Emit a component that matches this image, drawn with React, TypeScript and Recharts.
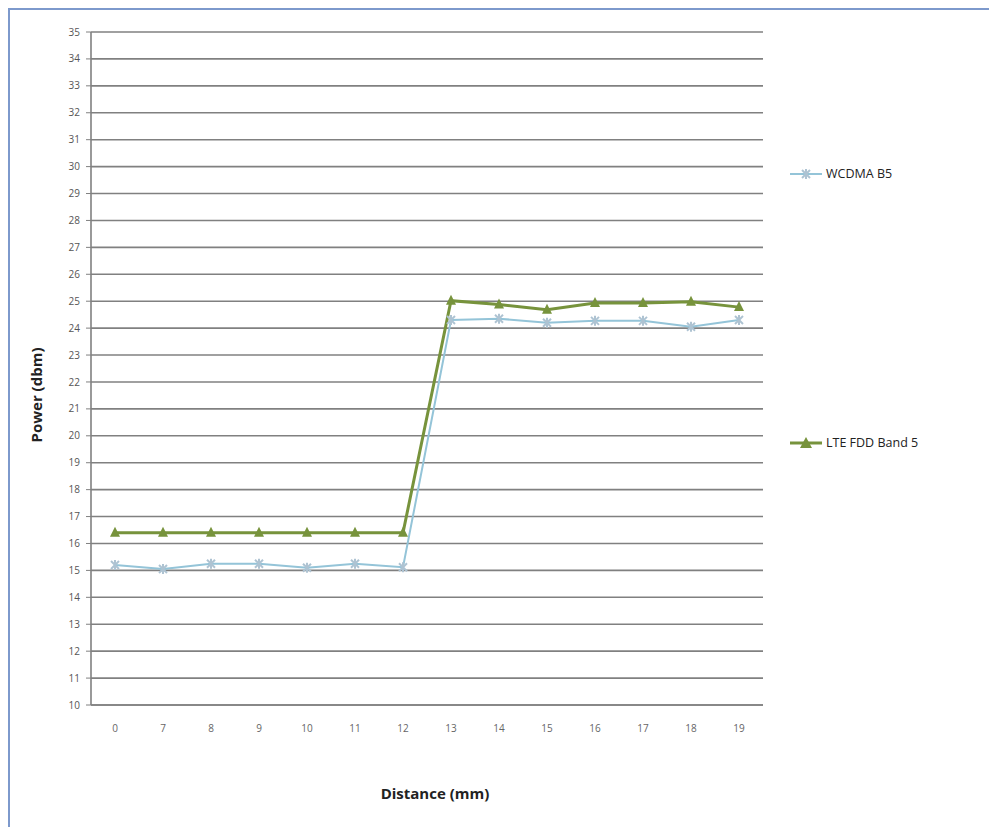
import React from 'react';
import { LineChart, Line, XAxis, YAxis, CartesianGrid, Legend, Label } from 'recharts';

const distances = ['0', '7', '8', '9', '10', '11', '12', '13', '14', '15', '16', '17', '18', '19'];
const wcdmaB5 = [15.2, 15.05, 15.25, 15.25, 15.1, 15.25, 15.12, 24.3, 24.35, 24.2, 24.27, 24.27, 24.05, 24.3];
const lteBand5 = [16.4, 16.4, 16.4, 16.4, 16.4, 16.4, 16.4, 25.02, 24.88, 24.68, 24.93, 24.93, 24.98, 24.78];
const yTicks = Array.from({ length: 26 }, (_, i) => 10 + i);

const seriesNames = { w: 'WCDMA B5', l: 'LTE FDD Band 5' };

const data = distances.map((d, i) => ({ d, w: wcdmaB5[i], l: lteBand5[i] }));

const W_COLOR = '#94c4d8';
const W_MARK = '#aec3d2';
const L_COLOR = '#77933c';

const StarDot = (props: any) => {
  const { cx, cy } = props;
  if (cx == null || cy == null) return null;
  const r = 4;
  return (
    <g>
      <line x1={cx - r} y1={cy - r} x2={cx + r} y2={cy + r} stroke={W_MARK} strokeWidth={2} />
      <line x1={cx - r} y1={cy + r} x2={cx + r} y2={cy - r} stroke={W_MARK} strokeWidth={2} />
      <line x1={cx} y1={cy - r - 1} x2={cx} y2={cy + r + 1} stroke={W_MARK} strokeWidth={2} />
    </g>
  );
};

const TriDot = (props: any) => {
  const { cx, cy } = props;
  if (cx == null || cy == null) return null;
  const s = 5;
  return <path d={`M${cx},${cy - s - 1} L${cx + s},${cy + s - 1} L${cx - s},${cy + s - 1} Z`} fill={L_COLOR} />;
};

const LegendContent = (props: any) => {
  const { payload } = props;
  return (
    <div style={{ position: 'relative', width: 200, height: 500 }}>
      {(payload || []).map((p: any) => {
        const isL = p.dataKey === 'l';
        const top = isL ? 424 : 155;
        return (
          <div key={p.value} style={{ position: 'absolute', left: 0, top, display: 'flex', alignItems: 'center' }}>
            <svg width={34} height={14}>
              <line x1={0} y1={7} x2={32} y2={7} stroke={p.color} strokeWidth={isL ? 3 : 2} />
              {isL ? (
                <path d="M16,1 L22,12 L10,12 Z" fill={L_COLOR} />
              ) : (
                <g>
                  <line x1={12} y1={3} x2={20} y2={11} stroke={W_MARK} strokeWidth={2} />
                  <line x1={12} y1={11} x2={20} y2={3} stroke={W_MARK} strokeWidth={2} />
                  <line x1={16} y1={2} x2={16} y2={12} stroke={W_MARK} strokeWidth={2} />
                </g>
              )}
            </svg>
            <span style={{ fontFamily: 'Open Sans, sans-serif', fontSize: 12.5, color: '#222', marginLeft: 2, whiteSpace: 'nowrap' }}>{p.value}</span>
          </div>
        );
      })}
    </div>
  );
};

export default function App() {
  return (
    <div style={{ width: 987, height: 817, borderTop: '2px solid #7d99cc', borderLeft: '2px solid #7d99cc', background: '#fff' }}>
      <LineChart width={987} height={817} data={data} margin={{ top: 22, right: 234, bottom: 92, left: 0 }}>
        <CartesianGrid vertical={false} stroke="#808080" strokeWidth={1.6} />
        <XAxis
          dataKey="d"
          padding={{ left: 24, right: 24 }}
          tickLine={false}
          axisLine={{ stroke: '#808080', strokeWidth: 1.6 }}
          tickMargin={14}
          tick={{ fontSize: 10, fill: '#666', fontFamily: 'Open Sans, sans-serif' }}
          interval={0}
        >
          <Label
            content={(p: any) => (
              <text x={425} y={789} textAnchor="middle" fontFamily="Open Sans, sans-serif" fontWeight="bold" fontSize={15} fill="#222">
                Distance (mm)
              </text>
            )}
          />
        </XAxis>
        <YAxis
          width={81}
          domain={[10, 35]}
          ticks={yTicks}
          interval={0}
          tickSize={5}
          tickMargin={6}
          tickLine={{ stroke: '#808080' }}
          axisLine={{ stroke: '#808080', strokeWidth: 1.6 }}
          tick={{ fontSize: 10, fill: '#555', fontFamily: 'Open Sans, sans-serif' }}
        >
          <Label
            content={(p: any) => (
              <text x={0} y={0} transform="translate(32,385) rotate(-90)" textAnchor="middle" fontFamily="Open Sans, sans-serif" fontWeight="bold" fontSize={15} fill="#222">
                Power (dbm)
              </text>
            )}
          />
        </YAxis>
        <Legend
          layout="horizontal"
          align="center"
          verticalAlign="middle"
          wrapperStyle={{ position: 'absolute', left: 780, top: 0, width: 200, height: 500 }}
          content={LegendContent}
        />
        <Line
          name={seriesNames.w}
          dataKey="w"
          stroke={W_COLOR}
          strokeWidth={2}
          dot={<StarDot />}
          activeDot={false}
          isAnimationActive={false}
        />
        <Line
          name={seriesNames.l}
          dataKey="l"
          stroke={L_COLOR}
          strokeWidth={3}
          dot={<TriDot />}
          activeDot={false}
          isAnimationActive={false}
        />
      </LineChart>
    </div>
  );
}
